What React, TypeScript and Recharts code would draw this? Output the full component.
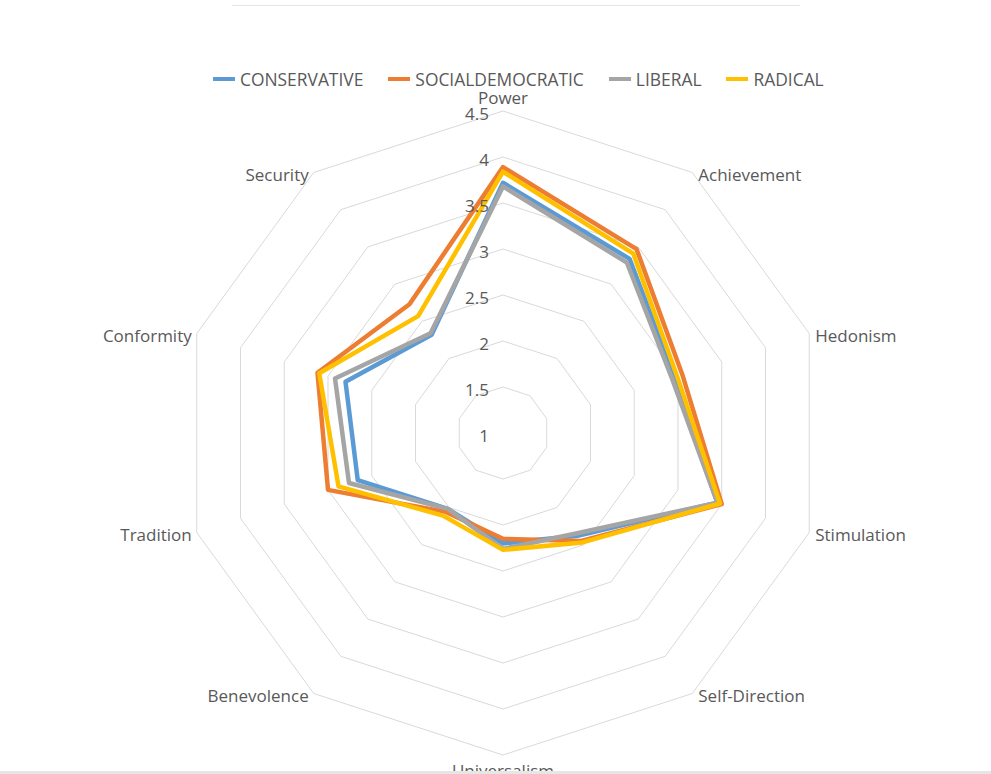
import React from 'react';
import { RadarChart, Radar, PolarGrid, PolarAngleAxis, PolarRadiusAxis, Legend } from 'recharts';

const categories = ['Power', 'Achievement', 'Hedonism', 'Stimulation', 'Self-Direction', 'Universalism', 'Benevolence', 'Tradition', 'Conformity', 'Security'];
const conservative = [3.72, 3.34, 2.96, 3.45, 2.38, 2.20, 2.02, 2.66, 2.80, 2.32];
const socialdemocratic = [3.89, 3.47, 3.05, 3.50, 2.45, 2.15, 2.06, 3.00, 3.12, 2.73];
const liberal = [3.68, 3.29, 2.93, 3.45, 2.35, 2.26, 2.02, 2.76, 2.92, 2.34];
const radical = [3.84, 3.41, 2.99, 3.48, 2.47, 2.27, 2.11, 2.88, 3.10, 2.57];
const radiusTicks = [1, 1.5, 2, 2.5, 3, 3.5, 4, 4.5];

const seriesDefs = [
  { key: 'CONSERVATIVE', color: '#5B9BD5' },
  { key: 'SOCIALDEMOCRATIC', color: '#ED7D31' },
  { key: 'LIBERAL', color: '#A5A5A5' },
  { key: 'RADICAL', color: '#FFC000' },
];

const data = categories.map((c, i) => ({
  category: c,
  CONSERVATIVE: conservative[i],
  SOCIALDEMOCRATIC: socialdemocratic[i],
  LIBERAL: liberal[i],
  RADICAL: radical[i],
}));

const W = 991;
const H = 774;
const CX = 503;
const CY = 433;
// radius of the 4.5 ring
const R = 322;
// scale domain [1, 5] so that 4.5 lands on R
const DOMAIN_MIN = 1;
const DOMAIN_MAX = 5;
const OUTER = (R * (DOMAIN_MAX - DOMAIN_MIN)) / (4.5 - DOMAIN_MIN);
const FONT = '"Open Sans", sans-serif';
const TEXT = '#595959';

const AngleTick = (props: any) => {
  const { x, y, payload } = props;
  const dx = x - CX;
  const dy = y - CY;
  const len = Math.sqrt(dx * dx + dy * dy) || 1;
  const ux = dx / len;
  const uy = dy / len;
  const vx = CX + ux * R;
  const vy = CY + uy * R;
  let tx = vx;
  let ty = vy + 2;
  let anchor: any = 'middle';
  if (Math.abs(ux) < 0.1) {
    ty = uy < 0 ? vy - 14 : vy + 15;
  } else if (ux > 0) {
    anchor = 'start';
    tx = vx + 6;
  } else {
    anchor = 'end';
    tx = vx - 5;
  }
  return (
    <text x={tx} y={ty} textAnchor={anchor} dominantBaseline="central" fill={TEXT} fontSize={17} fontFamily={FONT}>
      {payload.value}
    </text>
  );
};

const RadiusTick = (props: any) => {
  const { x, y, payload } = props;
  return (
    <text x={x - 14} y={y + 2} textAnchor="end" dominantBaseline="central" fill={TEXT} fontSize={17} fontFamily={FONT}>
      {payload.value}
    </text>
  );
};

const LegendContent = () => (
  <div style={{ display: 'flex', alignItems: 'center', paddingLeft: 213, fontFamily: FONT, fontSize: 17.4, color: TEXT, whiteSpace: 'nowrap' }}>
    {seriesDefs.map((s) => (
      <div key={s.key} style={{ display: 'flex', alignItems: 'center', marginRight: 25 }}>
        <div style={{ width: 22, height: 4, background: s.color, marginRight: 5 }} />
        <span>{s.key}</span>
      </div>
    ))}
  </div>
);

export default function App() {
  return (
    <div style={{ position: 'absolute', left: 0, top: 0, width: W, height: H, background: '#fff', overflow: 'hidden' }}>
      <RadarChart width={W} height={H} data={data} cx={CX} cy={CY} outerRadius={OUTER} margin={{ top: 0, right: 0, bottom: 0, left: 0 }}>
        <PolarGrid gridType="polygon" radialLines={false} stroke="#D9D9D9" strokeWidth={1} />
        <PolarAngleAxis dataKey="category" tick={<AngleTick />} tickLine={false} axisLine={false} />
        <PolarRadiusAxis
          angle={90}
          type="number"
          domain={[DOMAIN_MIN, DOMAIN_MAX]}
          tickCount={9}
          allowDataOverflow
          ticks={radiusTicks}
          tick={<RadiusTick />}
          axisLine={false}
          tickLine={false}
        />
        {seriesDefs.map((s) => (
          <Radar
            key={s.key}
            name={s.key}
            dataKey={s.key}
            stroke={s.color}
            strokeWidth={4.5}
            strokeLinejoin="round"
            fill="none"
            fillOpacity={0}
            dot={false}
            isAnimationActive={false}
          />
        ))}
        <Legend verticalAlign="top" content={<LegendContent />} wrapperStyle={{ top: 67, left: 0, width: W }} />
      </RadarChart>
      <div style={{ position: 'absolute', left: 232, top: 5, width: 568, height: 1, background: '#E6E6E6' }} />
      <div style={{ position: 'absolute', left: 0, top: 771, width: W, height: 3, background: '#E6E6E6' }} />
    </div>
  );
}
